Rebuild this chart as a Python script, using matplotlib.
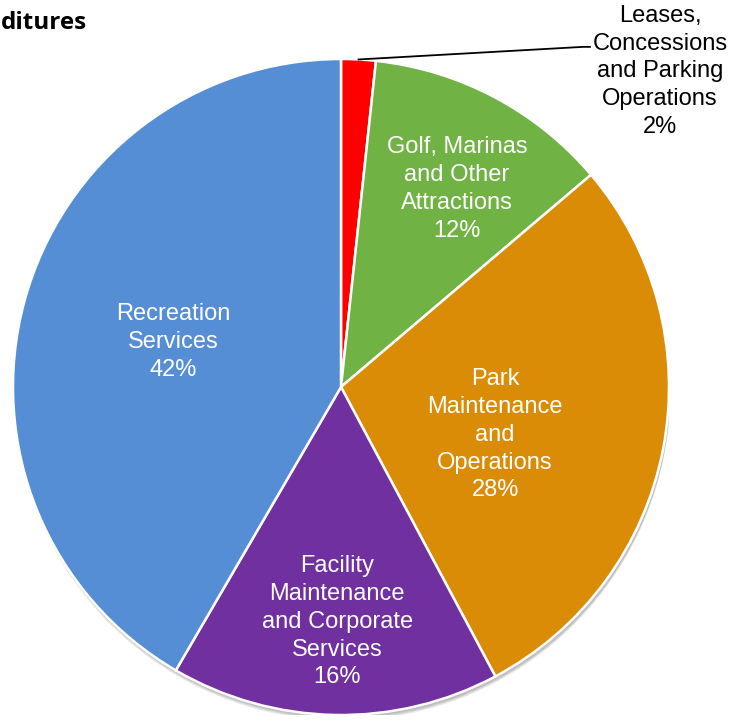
import numpy as np
import matplotlib.pyplot as plt
from matplotlib.patches import Circle

plt.rcParams['font.family'] = ['Liberation Sans', 'DejaVu Sans']

categories = ['Leases,\nConcessions\nand Parking\nOperations',
              'Golf, Marinas\nand Other\nAttractions',
              'Park\nMaintenance\nand\nOperations',
              'Facility\nMaintenance\nand Corporate\nServices',
              'Recreation\nServices']
shares = [1.7, 12.1, 28.4, 16.2, 41.6]
pct_labels = ['2%', '12%', '28%', '16%', '42%']
colors = ['#FF0000', '#70B244', '#DB8C06', '#7030A0', '#558ED5']

# label centres in units of the pie radius
label_pos = [(0.973, 0.962), (0.354, 0.604), (0.470, -0.146),
             (-0.012, -0.716), (-0.512, 0.137)]

fig = plt.figure(figsize=(7.36, 7.21), dpi=100)
ax = fig.add_axes([13 / 736, 6 / 721, 656 / 736, 656 / 721])

# soft shadow under the pie
for k in range(4):
    ax.add_patch(Circle((0.004, -0.008 - 0.003 * k), 1.0, color='black',
                        alpha=0.07, lw=0, zorder=0))

wedges, _ = ax.pie(shares, colors=colors, startangle=90, counterclock=False,
                   radius=1, wedgeprops=dict(edgecolor='white', linewidth=1.8))
ax.set_xlim(-1, 1)
ax.set_ylim(-1, 1)
ax.set_aspect('auto')
ax.axis('off')

for i, (cat, pct, (lx, ly)) in enumerate(zip(categories, pct_labels, label_pos)):
    ax.text(lx, ly, cat + '\n' + pct, ha='center', va='center',
            color='black' if i == 0 else 'white', fontsize=17,
            linespacing=1.34, clip_on=False)

# leader line for the small slice
w = wedges[0]
mid = np.deg2rad((w.theta1 + w.theta2) / 2)
ax.plot([np.cos(mid), 0.738, 0.759], [np.sin(mid), 1.037, 1.037],
        color='black', lw=1.3, clip_on=False)

# title is cropped on the left in the source image
fig.text(1 / 736, 1 - 23 / 721, 'ditures', ha='left',
         va='center', fontsize=17.5, fontweight='bold', family='Open Sans')

fig.savefig('out.png', dpi=100)
